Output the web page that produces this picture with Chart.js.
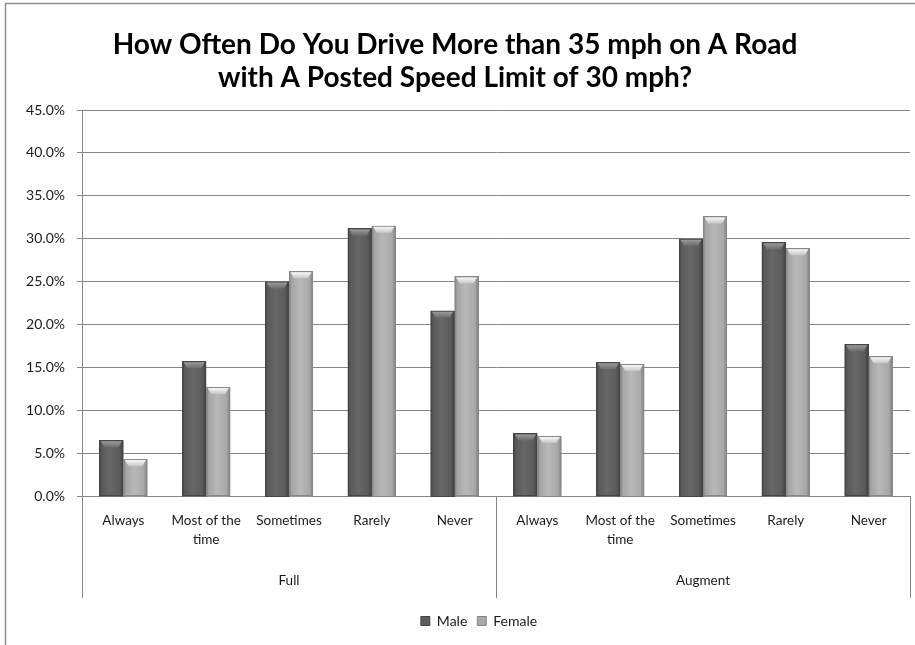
<!DOCTYPE html>
<html>
<head>
<meta charset="utf-8">
<script src="https://cdn.jsdelivr.net/npm/chart.js@4/dist/chart.umd.min.js"></script>
<style>
  html, body { margin: 0; padding: 0; background: #ffffff; }
  #wrap { width: 915px; height: 645px; position: relative; }
</style>
</head>
<body>
<div id="wrap"><canvas id="chart" width="915" height="645"></canvas></div>
<script>
// Survey answers, split by road category group
const frequencies = ['Always', ['Most of the', 'time'], 'Sometimes', 'Rarely', 'Never'];
const groups = ['Full', 'Augment'];
const categories = groups.flatMap(() => frequencies);

// Share of respondents (%) giving each answer
const maleShare   = [6.5, 15.7, 25.0, 31.2, 21.6, 7.3, 15.6, 30.0, 29.6, 17.7];
const femaleShare = [4.3, 12.7, 26.2, 31.5, 25.6, 7.0, 15.4, 32.6, 28.9, 16.3];

const yMin = 0, yMax = 45, yStep = 5;

const titleLines = [
  'How Often Do You Drive More than 35 mph on A Road',
  'with A Posted Speed Limit of 30 mph?'
];

const FONT = 'Lato, "Open Sans", sans-serif';
const AXIS_GREY = '#868686';
const TEXT = '#1a1a1a';

// Outer frame of the chart box
const framePlugin = {
  id: 'frame',
  beforeDraw(chart) {
    const ctx = chart.ctx;
    ctx.save();
    ctx.fillStyle = '#ffffff';
    ctx.fillRect(0, 0, chart.width, chart.height);
    ctx.strokeStyle = '#8c8c8c';
    ctx.lineWidth = 1.5;
    ctx.beginPath();
    ctx.moveTo(5.5, chart.height);
    ctx.lineTo(5.5, 3.5);
    ctx.lineTo(chart.width, 3.5);
    ctx.stroke();
    ctx.restore();
  }
};

// The legend sits a little right of the page centre
const legendNudge = {
  id: 'legendNudge',
  afterLayout(chart) {
    const lg = chart.legend;
    if (!lg) return;
    lg.left += 24;
    lg.right += 24;
  }
};

// Bevelled, shaded look for the bars (drawn over each bar element's own geometry)
const bevelPlugin = {
  id: 'bevel',
  afterDatasetsDraw(chart) {
    const ctx = chart.ctx;
    const looks = [
      { body: ['#3e3e3e', '#595959', '#676767', '#5a5a5a', '#3c3c3c'], edge: '#464646', cap: ['#a2a2a2', '#6c6c6c'] },
      { body: ['#7a7a7a', '#a4a4a4', '#b8b8b8', '#a8a8a8', '#7c7c7c'], edge: '#888888', cap: ['#ffffff', '#c6c6c6'] }
    ];
    chart.data.datasets.forEach((ds, di) => {
      const meta = chart.getDatasetMeta(di);
      if (meta.hidden) return;
      const look = looks[di];
      meta.data.forEach(bar => {
        const l = bar.x - bar.width / 2, r = bar.x + bar.width / 2;
        const top = Math.min(bar.y, bar.base), bottom = Math.max(bar.y, bar.base);
        const w = r - l, h = bottom - top;
        ctx.save();
        const g = ctx.createLinearGradient(l, 0, r, 0);
        const stops = [0, 0.1, 0.45, 0.85, 1];
        stops.forEach((s, i) => g.addColorStop(s, look.body[i]));
        ctx.fillStyle = g;
        ctx.fillRect(l, top, w, h + 1);
        ctx.strokeStyle = look.edge;
        ctx.lineWidth = 1;
        ctx.strokeRect(Math.round(l) + 0.5, Math.round(top) + 0.5, Math.round(w) - 1, Math.round(h));
        // top cap
        const ch = Math.min(7, h);
        const cg = ctx.createLinearGradient(0, top, 0, top + ch);
        cg.addColorStop(0, look.cap[0]);
        cg.addColorStop(1, look.cap[1]);
        ctx.fillStyle = cg;
        ctx.beginPath();
        ctx.moveTo(l + 1.5, top + 1);
        ctx.lineTo(r - 1.5, top + 1);
        ctx.lineTo(r - 5, top + ch);
        ctx.lineTo(l + 5, top + ch);
        ctx.closePath();
        ctx.fill();
        ctx.restore();
      });
    });
  }
};

// Vertical dividers of the two-level category axis
const dividerPlugin = {
  id: 'dividers',
  afterDraw(chart) {
    const x = chart.scales.x, x2 = chart.scales.x2;
    const per = frequencies.length;
    const xs = [x.left];
    for (let gi = 1; gi < groups.length; gi++) {
      xs.push((x.getPixelForValue(gi * per - 1) + x.getPixelForValue(gi * per)) / 2);
    }
    xs.push(x.right);
    const ctx = chart.ctx;
    ctx.save();
    ctx.strokeStyle = AXIS_GREY;
    ctx.lineWidth = 1;
    ctx.beginPath();
    xs.forEach(px => {
      const p = Math.round(px) + 0.5;
      ctx.moveTo(p, x.top);
      ctx.lineTo(p, x2.bottom - 6);
    });
    ctx.stroke();
    ctx.restore();
  }
};

new Chart(document.getElementById('chart'), {
  type: 'bar',
  data: {
    labels: categories,
    datasets: [
      { label: 'Male', data: maleShare, backgroundColor: '#5c5c5c', borderColor: '#444444', borderWidth: 1 },
      { label: 'Female', data: femaleShare, backgroundColor: '#a8a8a8', borderColor: '#858585', borderWidth: 1 }
    ]
  },
  options: {
    responsive: false,
    devicePixelRatio: 1,
    animation: false,
    layout: { padding: { top: 6, left: 0, right: 5, bottom: 7 } },
    datasets: { bar: { categoryPercentage: 0.58, barPercentage: 1.0 } },
    plugins: {
      title: {
        display: true,
        text: titleLines,
        color: '#000000',
        font: { family: FONT, size: 28, weight: 'bold', lineHeight: 1.18 },
        padding: { top: 22, bottom: 16 }
      },
      legend: {
        position: 'bottom',
        labels: {
          boxWidth: 9, boxHeight: 9, padding: 10,
          color: TEXT,
          font: { family: FONT, size: 14 }
        }
      },
      tooltip: { enabled: false }
    },
    scales: {
      x: {
        offset: true,
        grid: { display: false, drawTicks: false },
        border: { display: true, color: AXIS_GREY, width: 1 },
        ticks: {
          autoSkip: false, maxRotation: 0, padding: 15,
          color: TEXT,
          font: { family: FONT, size: 13.5, lineHeight: 1.4 }
        },
        afterFit(s) { s.height = 60; }
      },
      x2: {
        type: 'category',
        labels: groups,
        position: 'bottom',
        offset: true,
        grid: { display: false, drawTicks: false },
        border: { display: false },
        ticks: {
          autoSkip: false, maxRotation: 0, padding: 15,
          color: TEXT,
          font: { family: FONT, size: 13.5, lineHeight: 1.4 }
        },
        afterFit(s) { s.height = 48; }
      },
      y: {
        min: yMin, max: yMax,
        grid: { color: AXIS_GREY, lineWidth: 1, tickLength: 5 },
        border: { display: true, color: AXIS_GREY, width: 1 },
        ticks: {
          stepSize: yStep, padding: 12,
          color: TEXT,
          font: { family: FONT, size: 14 },
          callback: v => Number(v).toFixed(1) + '%'
        },
        afterFit(s) { s.width = 82; }
      }
    }
  },
  plugins: [framePlugin, legendNudge, bevelPlugin, dividerPlugin]
});
</script>
</body>
</html>
